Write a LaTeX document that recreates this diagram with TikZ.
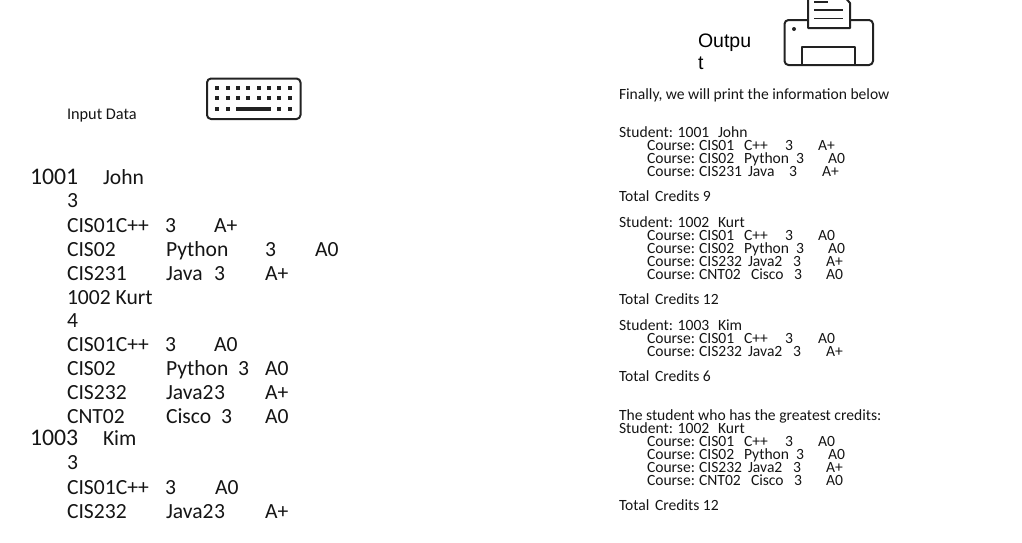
\documentclass[tikz,border=0pt]{standalone}
\usepackage{fontspec}
\setmainfont{Carlito}
\newfontfamily\arialf{Liberation Sans}
\newcommand{\tx}[4][rt]{\node[#1] at (#2,#3) {#4};}
\newcommand{\courseline}[9]{%
  \tx{647}{#1}{Course:}\tx{699}{#1}{#2}\tx{#3}{#1}{#4}\tx{#5}{#1}{#6}\tx{#7}{#1}{#8}}
\definecolor{textgray}{HTML}{151515}
\definecolor{iconc}{HTML}{222222}
\tikzset{
  base/.style={anchor=base west,inner sep=0pt,outer sep=0pt,text=textgray},
  rt/.style={base,font=\fontsize{15.6}{18}\selectfont},
  lf/.style={base,font=\fontsize{21.6}{26}\selectfont},
  lg/.style={base,font=\fontsize{23.8}{28}\selectfont},
  lb/.style={base,font=\fontsize{16.3}{19}\selectfont},
  ou/.style={base,text=black,font=\arialf\fontsize{19.5}{23}\selectfont},
  icon/.style={draw=iconc,line width=2pt,line join=round,fill=none},
}
\begin{document}
\begin{tikzpicture}[x=1pt,y=-1pt]
\useasboundingbox (0,0) rectangle (1022,542);
\clip (0,0) rectangle (1022,542);
% keyboard icon
\draw[icon,rounded corners=4pt] (207,78.5) rectangle (300.5,119);
\foreach \yy/\xs in {88.3/{217.3,227.7,238.3,248.3,258.7,269,279.3,289.7},98.3/{217.3,227.7,238.3,248.3,258.7,269,279.3,289.7},109.3/{217.3,227.7,279.3,289.7}}
  \foreach \xx in \xs {\fill[iconc] (\xx-2,\yy-2) rectangle (\xx+2,\yy+2);}
\fill[iconc] (236,107.2) rectangle (271,111.4);
% printer icon
\draw[icon,rounded corners=4pt] (808,20) -- (784.5,20) -- (784.5,65) -- (873,65) -- (873,20) -- (850,20);
\draw[icon] (808,-5) -- (808,28) -- (850,28) -- (850,3) -- (843,-5);
\draw[icon] (802,65) -- (802,46.5) -- (855,46.5) -- (855,65);
\draw[iconc,line width=1.6pt] (814,2) -- (828,2) (814,10) -- (843,10) (814,18.5) -- (843,18.5);
\fill[iconc] (794,29) circle (2);
% headings
\tx[lb]{67}{119}{Input Data}
\tx[ou]{698}{47}{Outpu}
\tx[ou]{698}{69}{t}
% left column
\tx[lg]{30}{184}{1001}\tx[lf]{103}{184}{John}
\tx[lf]{67}{207}{3}
\tx[lf]{67}{232}{CIS01C++}\tx[lf]{165}{232}{3}\tx[lf]{214}{232}{A+}
\tx[lf]{67}{256}{CIS02}\tx[lf]{166}{256}{Python}\tx[lf]{265}{256}{3}\tx[lf]{315}{256}{A0}
\tx[lf]{67}{280}{CIS231}\tx[lf]{166}{280}{Java}\tx[lf]{214}{280}{3}\tx[lf]{265}{280}{A+}
\tx[lf]{67}{304}{1002 Kurt}
\tx[lf]{67}{327}{4}
\tx[lf]{67}{351}{CIS01C++}\tx[lf]{165}{351}{3}\tx[lf]{214}{351}{A0}
\tx[lf]{67}{375}{CIS02}\tx[lf]{166}{375}{Python}\tx[lf]{238}{375}{3}\tx[lf]{265}{375}{A0}
\tx[lf]{67}{399}{CIS232}\tx[lf]{166}{399}{Java2}\tx[lf]{214}{399}{3}\tx[lf]{265}{399}{A+}
\tx[lf]{67}{423}{CNT02}\tx[lf]{166}{423}{Cisco}\tx[lf]{221}{423}{3}\tx[lf]{265}{423}{A0}
\tx[lg]{30}{445}{1003}\tx[lf]{103}{445}{Kim}
\tx[lf]{67}{469}{3}
\tx[lf]{67}{494}{CIS01C++}\tx[lf]{165}{494}{3}\tx[lf]{215}{494}{A0}
\tx[lf]{67}{518}{CIS232}\tx[lf]{166}{518}{Java2}\tx[lf]{214}{518}{3}\tx[lf]{265}{518}{A+}
% right column
\tx{619}{99}{Finally, we will print the information below}
\tx{619}{137}{Student: 1001}\tx{718}{137}{John}
\courseline{150}{CIS01}{744}{C++}{785}{3}{818}{A+}{}
\courseline{163}{CIS02}{744}{Python}{796}{3}{828}{A0}{}
\courseline{176}{CIS231}{748}{Java}{789}{3}{822}{A+}{}
\tx{619}{201}{Total}\tx{655}{201}{Credits 9}
\tx{619}{227}{Student: 1002}\tx{718}{227}{Kurt}
\courseline{240}{CIS01}{744}{C++}{785}{3}{818}{A0}{}
\courseline{253}{CIS02}{744}{Python}{796}{3}{828}{A0}{}
\courseline{266}{CIS232}{748}{Java2}{793}{3}{826}{A+}{}
\courseline{279}{CNT02}{751}{Cisco}{794}{3}{826}{A0}{}
\tx{619}{304}{Total}\tx{655}{304}{Credits 12}
\tx{619}{330}{Student: 1003}\tx{718}{330}{Kim}
\courseline{343}{CIS01}{744}{C++}{785}{3}{818}{A0}{}
\courseline{356}{CIS232}{748}{Java2}{793}{3}{826}{A+}{}
\tx{619}{381}{Total}\tx{655}{381}{Credits 6}
\tx{619}{420}{The student who has the greatest credits:}
\tx{619}{433}{Student: 1002}\tx{718}{433}{Kurt}
\courseline{446}{CIS01}{744}{C++}{785}{3}{818}{A0}{}
\courseline{459}{CIS02}{744}{Python}{796}{3}{828}{A0}{}
\courseline{472}{CIS232}{748}{Java2}{793}{3}{826}{A+}{}
\courseline{485}{CNT02}{751}{Cisco}{794}{3}{826}{A0}{}
\tx{619}{510}{Total}\tx{655}{510}{Credits 12}
\end{tikzpicture}
\end{document}
